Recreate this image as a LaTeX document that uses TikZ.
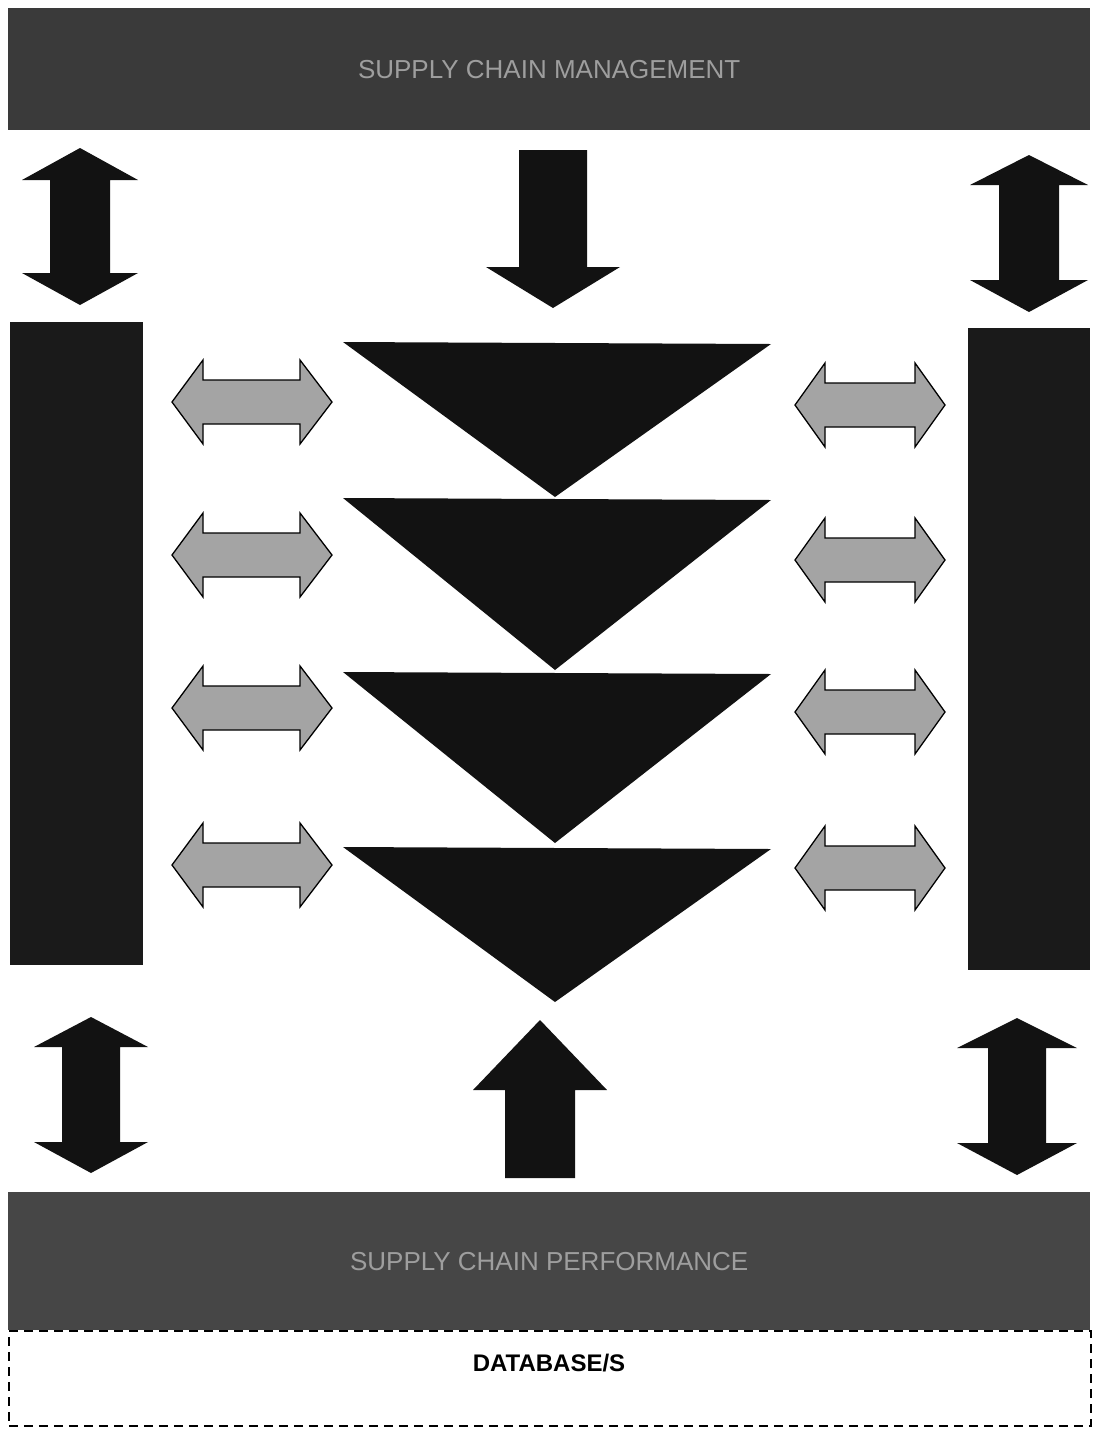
\documentclass[tikz,border=0pt]{standalone}
\usepackage{fontspec}
\setmainfont{Liberation Sans}
\definecolor{barA}{HTML}{3A3A3A}
\definecolor{barB}{HTML}{464646}
\definecolor{sidebar}{HTML}{1A1A1A}
\definecolor{blk}{HTML}{121212}
\definecolor{greyarrow}{HTML}{A4A4A4}
\definecolor{bartext}{HTML}{9E9E9E}
% vertical double arrow: cx, toptip, topbase, botbase, bottip, headhalf, shafthalf
\newcommand{\VDblArrow}[7]{%
  \fill[blk] (#1,#2) -- ({#1+#6},#3) -- ({#1+#7},#3) -- ({#1+#7},#4) -- ({#1+#6},#4)
    -- (#1,#5) -- ({#1-#6},#4) -- ({#1-#7},#4) -- ({#1-#7},#3) -- ({#1-#6},#3) -- cycle;}
% horizontal double arrow: cy, lefttip, leftbase, rightbase, righttip, headhalf, shafthalf
\newcommand{\HDblArrow}[7]{%
  \draw[greyarrowstyle] (#2,#1) -- (#3,{#1-#6}) -- (#3,{#1-#7}) -- (#4,{#1-#7}) -- (#4,{#1-#6})
    -- (#5,#1) -- (#4,{#1+#6}) -- (#4,{#1+#7}) -- (#3,{#1+#7}) -- (#3,{#1+#6}) -- cycle;}
% single vertical arrow: cx, tail y, head base y, tip y, headhalf, shafthalf
\newcommand{\VSglArrow}[6]{%
  \fill[blk] ({#1-#6},#2) -- ({#1+#6},#2) -- ({#1+#6},#3) -- ({#1+#5},#3) -- (#1,#4)
    -- ({#1-#5},#3) -- ({#1-#6},#3) -- cycle;}
\tikzset{
  greyarrowstyle/.style={fill=greyarrow, draw=black, line width=1.3pt, line join=miter},
  hbar/.style={draw=none, fill=barA, minimum width=1082pt, inner sep=0pt, anchor=north west,
     text=bartext, font=\fontsize{26}{30}\selectfont},
  vbar/.style={draw=none, fill=sidebar, inner sep=0pt, anchor=north west},
  tri/.style={fill=blk},
}
\begin{document}
\begin{tikzpicture}[x=1pt,y=-1pt]
\useasboundingbox (0,0) rectangle (1098,1436);
\fill[white] (0,0) rectangle (1098,1436);
% bars
\node[hbar, minimum height=122pt] (scm) at (8,8) {SUPPLY CHAIN MANAGEMENT};
\node[vbar, minimum width=133pt, minimum height=643pt] (lbar) at (10,322) {};
\node[vbar, minimum width=122pt, minimum height=642pt] (rbar) at (968,328) {};
\node[hbar, fill=barB, minimum height=138pt] (scp) at (8,1192) {SUPPLY CHAIN PERFORMANCE};
\node[draw=black, dash pattern=on 9pt off 6pt, line width=1.5pt, minimum width=1082pt,
      minimum height=95pt, inner sep=0pt, anchor=north west] (db) at (8,1330) {};
\node[font=\bfseries\fontsize{24}{27}\selectfont, text=black] (dbt) at (549,1363) {DATABASE/S};
% top arrows
\VDblArrow{80}{148}{180}{273}{305}{58}{30}
\VDblArrow{1029}{155}{185}{280}{312}{59}{30}
\VSglArrow{553}{150}{267}{308}{67}{34}
% bottom arrows
\VDblArrow{91}{1017}{1047}{1142}{1173}{57}{29}
\VDblArrow{1017}{1018}{1048}{1143}{1175}{60}{29}
\VSglArrow{540}{1178}{1090}{1020}{67}{35}
% triangles
\fill[tri] (343,342) -- (771,344) -- (555,497) -- cycle;
\fill[tri] (343,498) -- (771,500) -- (555,670) -- cycle;
\fill[tri] (343,672) -- (771,674) -- (555,843) -- cycle;
\fill[tri] (343,847) -- (771,849) -- (555,1002) -- cycle;
% grey double arrows left
\HDblArrow{402}{172}{203}{300}{332}{42}{22}
\HDblArrow{555}{172}{203}{300}{332}{42}{22}
\HDblArrow{708}{172}{203}{300}{332}{42}{22}
\HDblArrow{865}{172}{203}{300}{332}{42}{22}
% grey double arrows right
\HDblArrow{405}{795}{825}{915}{945}{42}{22}
\HDblArrow{560}{795}{825}{915}{945}{42}{22}
\HDblArrow{712}{795}{825}{915}{945}{42}{22}
\HDblArrow{868}{795}{825}{915}{945}{42}{22}
\end{tikzpicture}
\end{document}
